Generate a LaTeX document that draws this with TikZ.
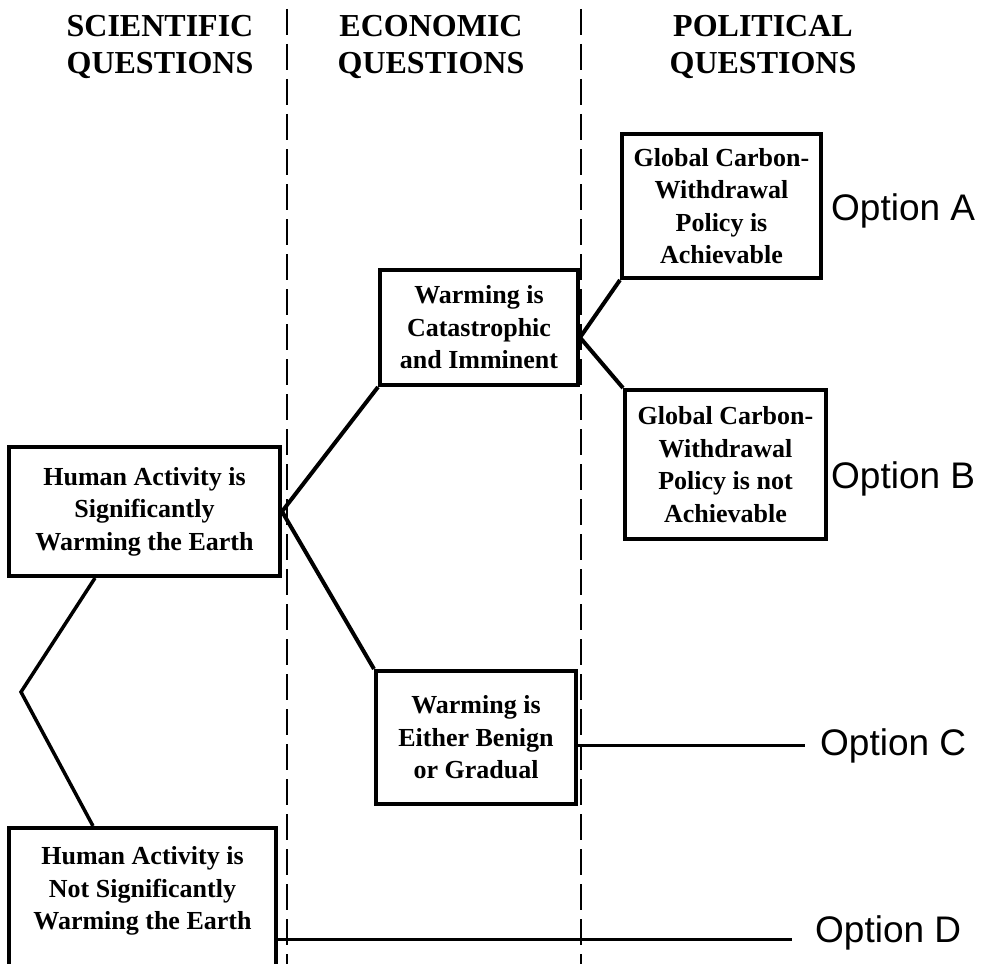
\documentclass[tikz,border=0pt]{standalone}
\usepackage{fontspec}
\setmainfont{Liberation Serif}
\newfontfamily\optfont{Liberation Sans}
\begin{document}
\begin{tikzpicture}[x=1pt,y=-1pt,
  box/.style={draw, line width=4pt, align=center, font=\fontsize{26}{32.5}\selectfont\bfseries, inner sep=0pt},
  boxtext/.style={align=center, font=\fontsize{26}{32.5}\selectfont\bfseries, inner sep=0pt},
  head/.style={align=center, font=\fontsize{32}{37}\selectfont\bfseries, inner sep=0pt},
  opt/.style={font=\optfont\fontsize{37}{44}\selectfont, inner sep=0pt, anchor=base west},
  link/.style={line width=4pt},
  optline/.style={line width=2.5pt},
  sep/.style={line width=2pt, dash pattern=on 26pt off 9pt}]
\useasboundingbox (0,0) rectangle (984,963);
\clip (0,0) rectangle (984,963);

% column separators
\coordinate (s1top) at (287,9);
\coordinate (s1bot) at (287,970);
\coordinate (s2top) at (581,9);
\coordinate (s2bot) at (581,970);
\draw[sep] (s1top) -- (s1bot);
\draw[sep] (s2top) -- (s2bot);

% headers
\node[head] (sci) at (160,47.5) {SCIENTIFIC\\QUESTIONS};
\node[head] (eco) at (431,47.5) {ECONOMIC\\QUESTIONS};
\node[head] (pol) at (763,47.5) {POLITICAL\\QUESTIONS};

% boxes
\node[box, minimum width=271, minimum height=129] (HA) at (144.5,511.5) {Human Activity is\\Significantly\\Warming the Earth};
\node[box, minimum width=198, minimum height=115] (CAT) at (479,327.5) {Warming is\\Catastrophic\\and Imminent};
\node[box, minimum width=200, minimum height=133] (BEN) at (476,737.5) {Warming is\\Either Benign\\or Gradual};
\node[box, minimum width=199, minimum height=144] (A) at (721.5,206) {Global Carbon-\\Withdrawal\\Policy is\\Achievable};
\node[box, minimum width=201, minimum height=149] (B) at (725.5,464.5) {Global Carbon-\\Withdrawal\\Policy is not\\Achievable};
\node[box, minimum width=267, minimum height=170, anchor=north] (NS) at (142.5,826) {};
\node[boxtext] (NStext) at (142.5,891) {Human Activity is\\Not Significantly\\Warming the Earth};

% options
\node[opt] (optA) at (831,220) {Option A};
\node[opt] (optB) at (831,488) {Option B};
\node[opt] (optC) at (820,755) {Option C};
\node[opt] (optD) at (815,942) {Option D};

% connectors
\draw[link] (CAT.south west) -- (HA.east) -- (BEN.north west);
\draw[link] (A.south west) -- ([yshift=-10pt]CAT.east) -- (B.north west);
\coordinate (bend) at (21,692);
\draw[link, line width=3.5pt] ([xshift=88pt]HA.south west) -- (bend) -- ([xshift=86pt]NS.north west);
\draw[optline] (optC.west -| BEN.east) -- ([xshift=-15pt]optC.west);
\draw[optline] ([yshift=-7pt]optD.west -| NS.east) -- ([yshift=-7pt,xshift=-23pt]optD.west);
\end{tikzpicture}
\end{document}
